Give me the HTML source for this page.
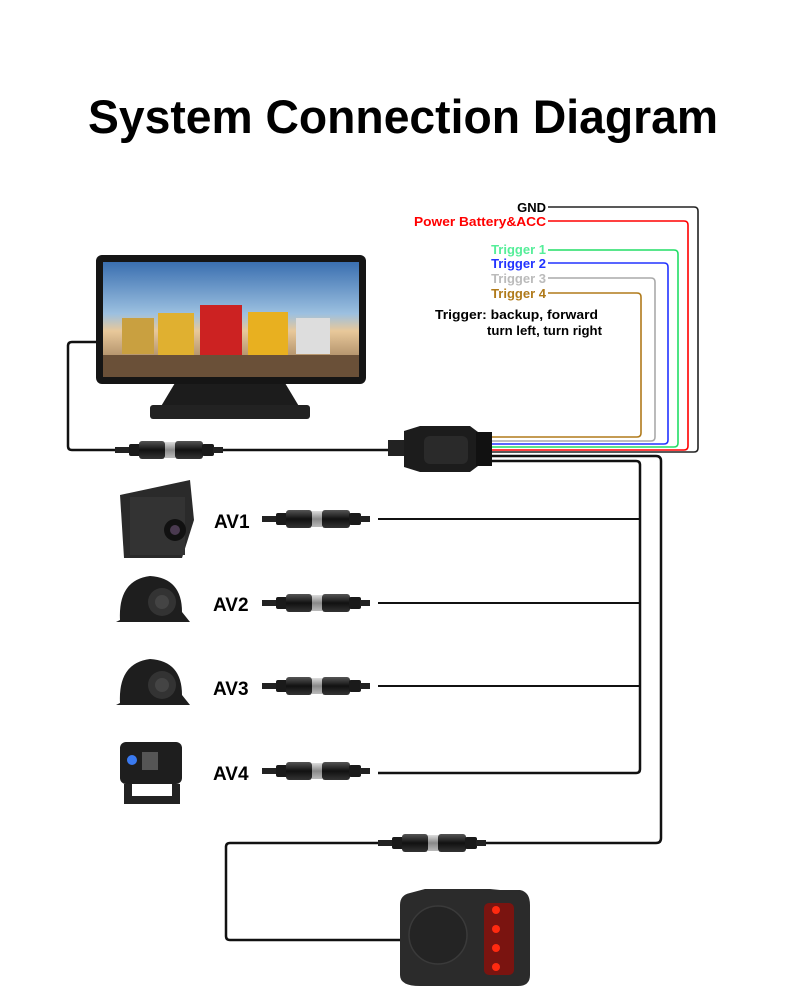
<!DOCTYPE html>
<html><head><meta charset="utf-8"><style>
html,body{margin:0;padding:0;background:#fff;}
svg{display:block;}
text{font-family:"Liberation Sans",sans-serif;font-weight:bold;}
</style></head><body>
<svg width="790" height="1002" viewBox="0 0 790 1002" xmlns="http://www.w3.org/2000/svg">
<defs>
<linearGradient id="cg" x1="0" y1="0" x2="0" y2="1"><stop offset="0" stop-color="#555"/><stop offset="0.5" stop-color="#111"/><stop offset="1" stop-color="#333"/></linearGradient>
<linearGradient id="mg" x1="0" y1="0" x2="0" y2="1"><stop offset="0" stop-color="#ddd"/><stop offset="0.5" stop-color="#888"/><stop offset="1" stop-color="#bbb"/></linearGradient>
<linearGradient id="sky" x1="0" y1="0" x2="0" y2="1"><stop offset="0" stop-color="#3a6fb0"/><stop offset="0.45" stop-color="#9cc0e0"/><stop offset="0.6" stop-color="#e8c89a"/><stop offset="1" stop-color="#8a6a48"/></linearGradient>
<g id="conn">
<rect x="0" y="-3" width="16" height="6" fill="#222"/>
<rect x="14" y="-6" width="12" height="12" rx="2" fill="#1a1a1a"/>
<rect x="24" y="-9" width="26" height="18" rx="3" fill="url(#cg)"/>
<rect x="50" y="-8" width="10" height="16" fill="url(#mg)"/>
<rect x="60" y="-9" width="28" height="18" rx="3" fill="url(#cg)"/>
<rect x="87" y="-6" width="12" height="12" rx="2" fill="#1a1a1a"/>
<rect x="98" y="-3" width="10" height="6" fill="#222"/>
</g>
</defs>

<text x="403" y="133" text-anchor="middle" font-size="47" fill="#000" style="font-weight:900" textLength="630" lengthAdjust="spacingAndGlyphs">System Connection Diagram</text>

<g fill="none" stroke-width="1.6">
<path d="M548 207 H694 q4 0 4 4 V448 q0 4 -4 4 H480" stroke="#222"/>
<path d="M548 221 H684 q4 0 4 4 V446 q0 4 -4 4 H480" stroke="#f00"/>
<path d="M548 250 H674 q4 0 4 4 V443 q0 4 -4 4 H480" stroke="#22dd66"/>
<path d="M548 263 H664 q4 0 4 4 V440 q0 4 -4 4 H480" stroke="#2233ff"/>
<path d="M548 278 H651 q4 0 4 4 V437 q0 4 -4 4 H480" stroke="#aaa"/>
<path d="M548 293 H637 q4 0 4 4 V433 q0 4 -4 4 H480" stroke="#b07a1a"/>
</g>
<text x="546" y="212" text-anchor="end" font-size="13" fill="#000">GND</text>
<text x="546" y="226" text-anchor="end" font-size="13" fill="#f00" textLength="132" lengthAdjust="spacingAndGlyphs">Power Battery&amp;ACC</text>
<text x="546" y="254" text-anchor="end" font-size="13" fill="#55ee99">Trigger 1</text>
<text x="546" y="268" text-anchor="end" font-size="13" fill="#2233ff">Trigger 2</text>
<text x="546" y="283" text-anchor="end" font-size="13" fill="#bbb">Trigger 3</text>
<text x="546" y="298" text-anchor="end" font-size="13" fill="#b07a1a">Trigger 4</text>
<text x="435" y="319" font-size="13" fill="#000" textLength="163" lengthAdjust="spacingAndGlyphs">Trigger: backup, forward</text>
<text x="487" y="335" font-size="13" fill="#000" textLength="115" lengthAdjust="spacingAndGlyphs">turn left, turn right</text>

<g fill="none" stroke="#111" stroke-width="2.5">
<path d="M96 342 H72 q-4 0 -4 4 V446 q0 4 4 4 H395"/>
<path d="M480 456 H656 q5 0 5 5 V838 q0 5 -5 5 H485"/>
<path d="M480 461 H636 q4 0 4 4 V769 q0 4 -4 4 H378"/>
<path d="M380 843 H230 q-4 0 -4 4 V936 q0 4 4 4 H402"/>
</g>
<g fill="none" stroke="#111" stroke-width="2">
<path d="M378 519 H640"/><path d="M378 603 H640"/><path d="M378 686 H640"/>
</g>

<path d="M175 383 H285 L300 408 H160 Z" fill="#1c1c1c"/>
<rect x="150" y="405" width="160" height="14" rx="3" fill="#222"/>
<rect x="96" y="255" width="270" height="129" rx="6" fill="#151515"/>
<rect x="103" y="262" width="256" height="115" fill="url(#sky)"/>
<g>
<rect x="122" y="318" width="32" height="36" fill="#c9a040"/><rect x="158" y="313" width="36" height="42" fill="#e0b030"/>
<rect x="200" y="305" width="42" height="52" fill="#cc2222"/><rect x="248" y="312" width="40" height="44" fill="#e8b020"/>
<rect x="296" y="318" width="34" height="36" fill="#ddd"/>
<rect x="103" y="355" width="256" height="22" fill="#6a5038"/>
</g>

<rect x="388" y="440" width="18" height="16" fill="#222"/>
<path d="M404 431 L420 426 H470 L478 432 V466 L470 472 H420 L404 467 Z" fill="#1c1c1c"/>
<rect x="424" y="436" width="44" height="28" rx="6" fill="#2a2a2a"/>
<rect x="476" y="432" width="16" height="34" fill="#111"/>

<use href="#conn" x="115" y="450"/>
<use href="#conn" x="262" y="519"/>
<use href="#conn" x="262" y="603"/>
<use href="#conn" x="262" y="686"/>
<use href="#conn" x="262" y="771"/>
<use href="#conn" x="378" y="843"/>

<text x="214" y="528" font-size="19" fill="#000">AV1</text>
<text x="213" y="611" font-size="19" fill="#000">AV2</text>
<text x="213" y="695" font-size="19" fill="#000">AV3</text>
<text x="213" y="780" font-size="19" fill="#000">AV4</text>

<path d="M120 495 L190 480 L194 520 L182 558 H124 Z" fill="#2a2a2a"/>
<rect x="130" y="497" width="55" height="58" fill="#333"/>
<circle cx="175" cy="530" r="11" fill="#111"/><circle cx="175" cy="530" r="5" fill="#4a3a50"/>
<g fill="#1e1e1e">
<path d="M120 620 Q118 580 150 576 Q182 578 182 612 L190 622 H116 Z"/>
<path d="M120 703 Q118 663 150 659 Q182 661 182 695 L190 705 H116 Z"/>
</g>
<circle cx="162" cy="602" r="14" fill="#333"/><circle cx="162" cy="602" r="7" fill="#444"/>
<circle cx="162" cy="685" r="14" fill="#333"/><circle cx="162" cy="685" r="7" fill="#444"/>
<rect x="120" y="742" width="62" height="42" rx="6" fill="#1e1e1e"/>
<circle cx="132" cy="760" r="5" fill="#3a7af0"/><rect x="142" y="752" width="16" height="18" fill="#555"/>
<path d="M124 784 V804 H180 V784 H172 V796 H132 V784 Z" fill="#222"/>

<path d="M410 893 L425 889 H490 L500 890 H520 Q530 892 530 905 V975 Q530 986 518 986 H420 Q400 986 400 975 V905 Q400 895 410 893Z" fill="#2b2b2b"/>
<circle cx="438" cy="935" r="29" fill="#242424" stroke="#3a3a3a" stroke-width="1.5"/>
<rect x="484" y="903" width="30" height="72" rx="5" fill="#7a1410"/>
<g fill="#ff2a10"><circle cx="496" cy="910" r="4"/><circle cx="496" cy="929" r="4"/><circle cx="496" cy="948" r="4"/><circle cx="496" cy="967" r="4"/></g>
</svg>
</body></html>
